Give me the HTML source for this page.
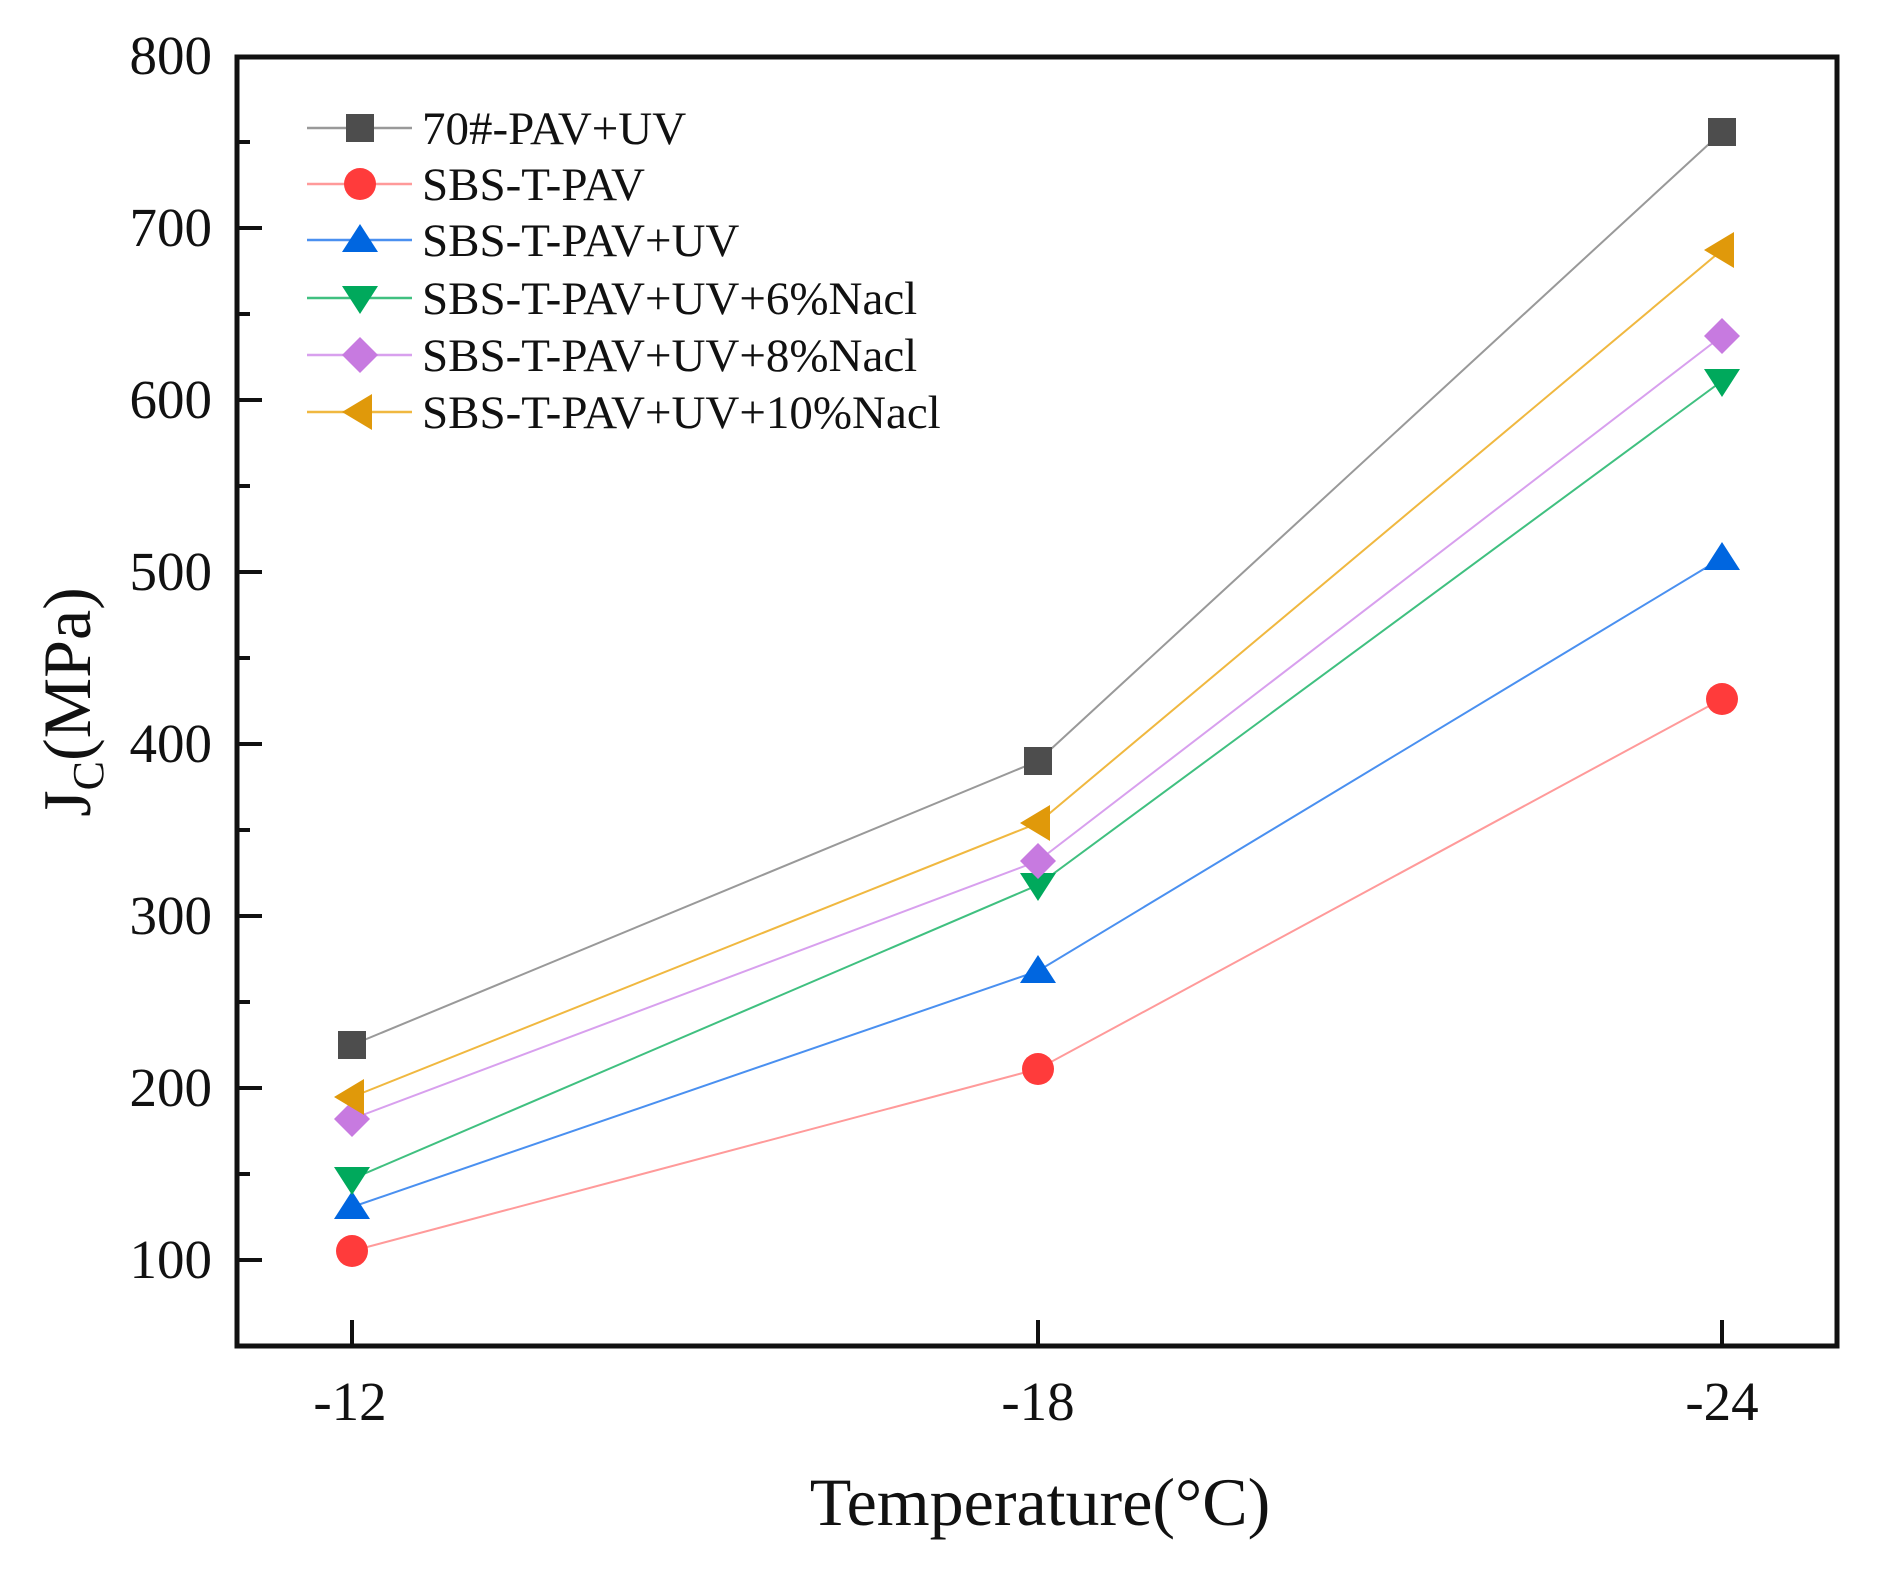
<!DOCTYPE html>
<html><head><meta charset="utf-8"><style>html,body{margin:0;padding:0;background:#fff}svg{display:block}</style></head>
<body>
<svg width="1881" height="1579" viewBox="0 0 1881 1579" xmlns="http://www.w3.org/2000/svg" font-family="Liberation Serif, serif">
<defs>
<g id="sq"><rect x="-14" y="-14" width="28" height="28" fill="#4d4d4d"/></g>
<g id="ci"><circle r="16" fill="#ff3b3b"/></g>
<g id="tu"><polygon points="-18,12 18,12 0,-16" fill="#0066e0"/></g>
<g id="td"><polygon points="-18,-12 18,-12 0,16" fill="#00a95c"/></g>
<g id="di"><polygon points="0,-18 18,0 0,18 -18,0" fill="#c77ae0"/></g>
<g id="tl"><polygon points="-18,0 12,-18 12,18" fill="#e0990a"/></g>
</defs>
<rect x="237" y="57" width="1600" height="1289" fill="none" stroke="#111" stroke-width="5"/>
<g stroke="#111" stroke-width="4">
<line x1="237" y1="1260" x2="262" y2="1260"/><line x1="237" y1="1088" x2="262" y2="1088"/><line x1="237" y1="916" x2="262" y2="916"/><line x1="237" y1="744" x2="262" y2="744"/><line x1="237" y1="572" x2="262" y2="572"/><line x1="237" y1="400" x2="262" y2="400"/><line x1="237" y1="228" x2="262" y2="228"/>
<line x1="237" y1="1174" x2="250" y2="1174"/><line x1="237" y1="1002" x2="250" y2="1002"/><line x1="237" y1="830" x2="250" y2="830"/><line x1="237" y1="658" x2="250" y2="658"/><line x1="237" y1="486" x2="250" y2="486"/><line x1="237" y1="314" x2="250" y2="314"/><line x1="237" y1="142" x2="250" y2="142"/>
<line x1="352" y1="1346" x2="352" y2="1320"/><line x1="1038" y1="1346" x2="1038" y2="1320"/><line x1="1722" y1="1346" x2="1722" y2="1320"/>
</g>
<g font-size="55" fill="#111" text-anchor="end">
<text x="212" y="74">800</text><text x="212" y="246">700</text><text x="212" y="418">600</text><text x="212" y="590">500</text><text x="212" y="762">400</text><text x="212" y="934">300</text><text x="212" y="1106">200</text><text x="212" y="1278">100</text>
</g>
<g font-size="55" fill="#111" text-anchor="middle">
<text x="350" y="1420">-12</text><text x="1038" y="1420">-18</text><text x="1722" y="1420">-24</text>
</g>
<text x="1040" y="1525" font-size="68" text-anchor="middle" fill="#111">Temperature(°C)</text>
<text transform="translate(90,702) rotate(-90)" font-size="68" text-anchor="middle" fill="#111">J<tspan font-size="44" dy="13">C</tspan><tspan dy="-13">(MPa)</tspan></text>
<g fill="none" stroke-width="2">
<polyline stroke="#999" points="352,1045 1038,761 1722,132"/>
<polyline stroke="#ff9a9a" points="352,1251 1038,1069 1722,699"/>
<polyline stroke="#4a90f0" points="352,1207 1038,971 1722,558"/>
<polyline stroke="#40c080" points="352,1179 1038,885 1722,381"/>
<polyline stroke="#d8a0ee" points="352,1119 1038,861 1722,336"/>
<polyline stroke="#f0b840" points="352,1097 1038,823 1722,250"/>
</g>
<use href="#sq" x="352" y="1045"/><use href="#sq" x="1038" y="761"/><use href="#sq" x="1722" y="132"/>
<use href="#ci" x="352" y="1251"/><use href="#ci" x="1038" y="1069"/><use href="#ci" x="1722" y="699"/>
<use href="#tu" x="352" y="1207"/><use href="#tu" x="1038" y="971"/><use href="#tu" x="1722" y="558"/>
<use href="#td" x="352" y="1179"/><use href="#td" x="1038" y="885"/><use href="#td" x="1722" y="381"/>
<use href="#di" x="352" y="1119"/><use href="#di" x="1038" y="861"/><use href="#di" x="1722" y="336"/>
<use href="#tl" x="352" y="1097"/><use href="#tl" x="1038" y="823"/><use href="#tl" x="1722" y="250"/>
<g stroke-width="2.5">
<line x1="307" y1="128" x2="412" y2="128" stroke="#999"/>
<line x1="307" y1="184" x2="412" y2="184" stroke="#ff9a9a"/>
<line x1="307" y1="240" x2="412" y2="240" stroke="#4a90f0"/>
<line x1="307" y1="298" x2="412" y2="298" stroke="#40c080"/>
<line x1="307" y1="355" x2="412" y2="355" stroke="#d8a0ee"/>
<line x1="307" y1="412" x2="412" y2="412" stroke="#f0b840"/>
</g>
<use href="#sq" x="360" y="128"/><use href="#ci" x="360" y="184"/><use href="#tu" x="360" y="240"/><use href="#td" x="360" y="298"/><use href="#di" x="360" y="355"/><use href="#tl" x="360" y="412"/>
<g font-size="47" fill="#111">
<text x="422" y="144">70#-PAV+UV</text>
<text x="422" y="200">SBS-T-PAV</text>
<text x="422" y="256">SBS-T-PAV+UV</text>
<text x="422" y="314">SBS-T-PAV+UV+6%Nacl</text>
<text x="422" y="371">SBS-T-PAV+UV+8%Nacl</text>
<text x="422" y="428">SBS-T-PAV+UV+10%Nacl</text>
</g>
</svg>
</body></html>
